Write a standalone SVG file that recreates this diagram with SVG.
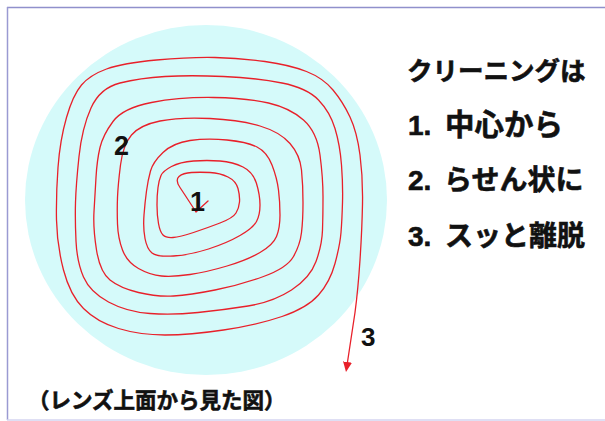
<svg xmlns="http://www.w3.org/2000/svg" width="605" height="421" viewBox="0 0 605 421">
  <style>
    .jp { font-family: "Liberation Sans", "Noto Sans CJK JP", sans-serif; font-weight: bold; fill: #111; stroke: #111; stroke-width: 0.6; }
    .num { font-family: "Liberation Sans", "Noto Sans CJK JP", sans-serif; font-weight: bold; fill: #111; }
    .spiral { fill: none; stroke: #e8202a; stroke-width: 1.3; stroke-linejoin: round; stroke-linecap: round; }
  </style>
  <defs>
    <marker id="arrow" viewBox="0 0 10 9" refX="0" refY="4.5" markerWidth="10" markerHeight="9" markerUnits="userSpaceOnUse" orient="auto">
      <path d="M0,0 L10,4.5 L0,9 z" fill="#e8202a"/>
    </marker>
  </defs>
  <rect x="0" y="0" width="605" height="421" fill="#ffffff"/>
  <g id="frame">
    <line x1="7" y1="7.5" x2="605" y2="7.5" stroke="#9090cc" stroke-width="1.5"/>
    <line x1="7.5" y1="7" x2="7.5" y2="420" stroke="#9a9ad2" stroke-width="1.5"/>
    <line x1="7" y1="420" x2="605" y2="420" stroke="#d4d4f0" stroke-width="1.5"/>
  </g>
  <g id="lens">
    <ellipse cx="206" cy="200" rx="181" ry="175" fill="#d5fafa"/>
  </g>
  <g id="connectors">
    <path class="spiral" marker-end="url(#arrow)" d="M208,201 L196,212 L190.5,203.5 Q185,195 180,187.5 Q175,180 179,176.5 Q183,173 191.5,172.5 Q200,172 210,172.5 Q220,173 228,177 Q236,181 238,188.5 Q240,196 239.5,202 Q239,208 236,213 Q233,218 220,223 Q207,228 193.5,232.5 Q180,237 173,237.5 Q166,238 163,235 Q160,232 158.5,223.5 Q157,215 157,205 Q157,195 158,187.5 Q159,180 161,175.5 Q163,171 171.5,166.5 Q180,162 193.5,161 Q207,160 220,161 Q233,162 243,167 Q253,172 256.5,183.5 Q260,195 260,205 Q260,215 256.5,221.5 Q253,228 240,235.5 Q227,243 208.5,249 Q190,255 173.5,256 Q157,257 152,253 Q147,249 145,238.5 Q143,228 144,215 Q145,202 146.5,191 Q148,180 150.5,171 Q153,162 163,152.5 Q173,143 190,140.5 Q207,138 227,140 Q247,142 257,147 Q267,152 272,165 Q277,178 278.5,190 Q280,202 280,215 Q280,228 276.5,236.5 Q273,245 260,252.5 Q247,260 227,266 Q207,272 190,274.5 Q173,277 161.5,276 Q150,275 138.5,268.5 Q127,262 122.5,250 Q118,238 117.5,224 Q117,210 117.5,197.5 Q118,185 120.5,165 Q123,145 131.5,135 Q140,125 160,121 Q180,117 210,118.5 Q240,120 260,126 Q280,132 290,143.5 Q300,155 301.5,170 Q303,185 303,202.5 Q303,220 301.5,232.5 Q300,245 293.5,256.5 Q287,268 263.5,276.5 Q240,285 215,290 Q190,295 173.5,296 Q157,297 138.5,292.5 Q120,288 110,280 Q100,272 96.5,250 Q93,228 94,211.5 Q95,195 96,177.5 Q97,160 100,147.5 Q103,135 113,121.5 Q123,108 151.5,102.5 Q180,97 213.5,97.5 Q247,98 268.5,103 Q290,108 303.5,120 Q317,132 320,155 Q323,178 323,196.5 Q323,215 322.5,230 Q322,245 316,261.5 Q310,278 291.5,290 Q273,302 248,306 Q223,310 198,312.5 Q173,315 150,313.5 Q127,312 108.5,302 Q90,292 83.5,277 Q77,262 76,241 Q75,220 75.5,202.5 Q76,185 79,156.5 Q82,128 91,108 Q100,88 120,83 Q140,78 165,76.5 Q190,75 223.5,76.5 Q257,78 282,83 Q307,88 318.5,100 Q330,112 335,128.5 Q340,145 341.5,165 Q343,185 342.5,202.5 Q342,220 341,232.5 Q340,245 335,263.5 Q330,282 318.5,295 Q307,308 282,316.5 Q257,325 223.5,330 Q190,335 165,335 Q140,335 118.5,328.5 Q97,322 83.5,308.5 Q70,295 63.5,270 Q57,245 56.5,220 Q56,195 58,167.5 Q60,140 66.5,117.5 Q73,95 81.5,85 Q90,75 106.5,69 Q123,63 156.5,60 Q190,57 215,57.5 Q240,58 265,61.5 Q290,65 306.5,71.5 Q323,78 333,90 Q343,102 350,117 Q357,132 360,155 Q363,178 362.5,204 Q362,230 360,260 Q358,290 355,312.5 L347.5,362"/>
  </g>
  <g id="label-1"><text class="num" x="190" y="211" font-size="27">1</text></g>
  <g id="label-2"><text class="num" x="114" y="155" font-size="27">2</text></g>
  <g id="label-3"><text class="num" x="361" y="346" font-size="26">3</text></g>
  <g id="title"><text class="jp" x="407" y="80" font-size="25.5">クリーニングは</text></g>
  <g id="step-1"><text class="jp" x="408" y="135" font-size="28">1.<tspan x="445" font-size="29.5">中心から</tspan></text></g>
  <g id="step-2"><text class="jp" x="408" y="190" font-size="28">2.<tspan x="444">らせん状に</tspan></text></g>
  <g id="step-3"><text class="jp" x="408" y="246" font-size="28">3.<tspan x="445">スッと離脱</tspan></text></g>
  <g id="caption"><text class="jp" x="28" y="408" font-size="21.5">（レンズ上面から見た図）</text></g>
</svg>
